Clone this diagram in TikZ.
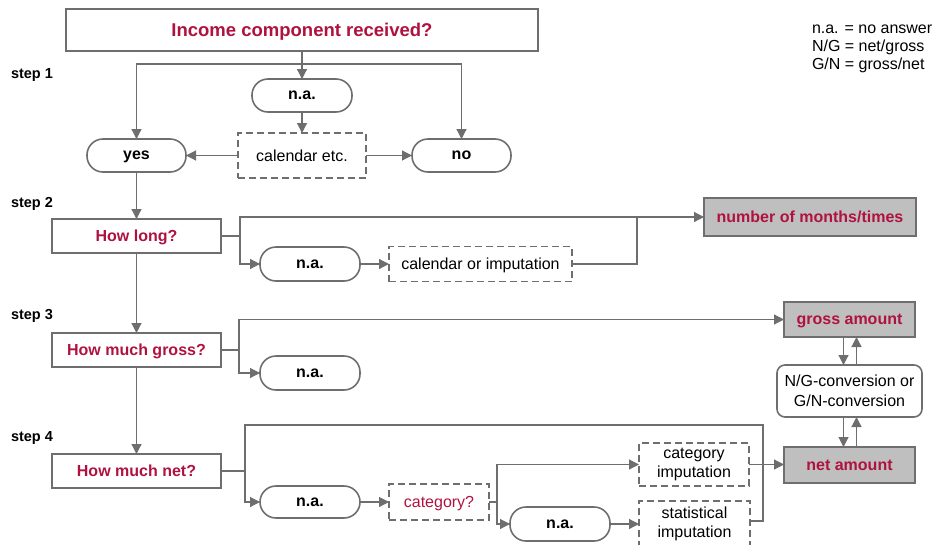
\documentclass[tikz,border=0pt]{standalone}
\usepackage{fontspec}
\setmainfont{Liberation Sans}
\usetikzlibrary{arrows.meta}
\definecolor{crim}{RGB}{176,18,64}
\definecolor{lg}{RGB}{110,110,110}
\definecolor{fillg}{RGB}{191,191,191}
\begin{document}
\begin{tikzpicture}[x=1pt,y=-1pt,
  every node/.style={inner sep=0pt, outer sep=0pt, font=\fontsize{16}{19.5}\selectfont},
  one/.style={text depth=0pt},
  qbox/.style={one, draw=lg, line width=1.6pt, text=crim, font=\fontsize{16}{19.5}\selectfont\bfseries, minimum width=169pt, minimum height=34pt},
  pill/.style={one, draw=lg, line width=1.6pt, rounded corners=16pt, font=\fontsize{16}{19.5}\selectfont\bfseries, minimum width=100pt, minimum height=33pt},
  dbox/.style={draw=lg, line width=1.6pt, dash pattern=on 7pt off 4pt, align=center},
  res/.style={one, draw=lg, line width=1.6pt, fill=fillg, text=crim, font=\fontsize{16}{19.5}\selectfont\bfseries},
  steplbl/.style={anchor=west, font=\fontsize{14.5}{17}\selectfont\bfseries},
  legend/.style={anchor=west, font=\fontsize{16}{19.5}\selectfont},
  conn/.style={draw=lg, line width=1.2pt},
  arr/.style={conn, -{Triangle[length=10pt,width=10pt]}}
]
\useasboundingbox (0,0) rectangle (932,544);

% legend
\node[legend] (lg1) at (812,29) {n.a. = no answer};
\node[legend] (lg2) at (812,47) {N/G = net/gross};
\node[legend] (lg3) at (812,65) {G/N = gross/net};

% step labels
\node[steplbl] (s1) at (11,75) {step 1};
\node[steplbl] (s2) at (11,204) {step 2};
\node[steplbl] (s3) at (11,316) {step 3};
\node[steplbl] (s4) at (11,438) {step 4};

% step 1
\node[one, draw=lg, line width=1.6pt, text=crim, font=\fontsize{18.5}{22}\selectfont\bfseries, minimum width=472pt, minimum height=42pt] (title) at (302,30) {Income component received?};
\node[pill] (na1) at (302,95.5) {n.a.};
\node[dbox, one, minimum width=128pt, minimum height=45pt] (cal1) at (302,155.5) {calendar etc.};
\node[pill, minimum width=99pt] (yes) at (136.5,155.5) {yes};
\node[pill, minimum width=99pt] (no) at (461.5,155.5) {no};
\coordinate (j1) at (302,64);
\draw[arr] (title.south) -- (na1.north);
\draw[arr] (j1) -| (yes.north);
\draw[arr] (j1) -| (no.north);
\draw[arr] (na1.south) -- (cal1.north);
\draw[arr] (cal1.west) -- (yes.east);
\draw[arr] (cal1.east) -- (no.west);

% step 2
\node[qbox] (howlong) at (136.5,236) {How long?};
\node[pill, minimum height=34pt] (na2) at (310,264) {n.a.};
\node[dbox, one, minimum width=183pt, minimum height=35pt] (cal2) at (480.5,264) {calendar or imputation};
\node[res, minimum width=212pt, minimum height=38pt] (months) at (810,217) {number of months/times};
\coordinate (j2) at (240,236);
\coordinate (j3) at (637,217);
\draw[arr] (yes.south) -- (howlong.north);
\draw[conn] (howlong.east) -- (j2);
\draw[arr] (j2) |- (months.west);
\draw[arr] (j2) |- (na2.west);
\draw[arr] (na2.east) -- (cal2.west);
\draw[conn] (cal2.east) -| (j3);

% step 3
\node[qbox] (howgross) at (136.5,350) {How much gross?};
\node[pill, minimum height=34pt] (na3) at (310,373) {n.a.};
\node[res, minimum width=131pt, minimum height=35pt] (gross) at (849.5,319.5) {gross amount};
\node[draw=lg, line width=1.6pt, rounded corners=8pt, align=center, minimum width=145pt, minimum height=52pt] (conv) at (849.5,391) {N/G-conversion or\\G/N-conversion};
\coordinate (j4) at (239,350);
\draw[arr] (howlong.south) -- (howgross.north);
\draw[conn] (howgross.east) -- (j4);
\draw[arr] (j4) |- (gross.west);
\draw[arr] (j4) |- (na3.west);

% step 4
\node[qbox] (hownet) at (136.5,471) {How much net?};
\node[pill, minimum height=32pt] (na4) at (310,502) {n.a.};
\node[dbox, one, minimum width=100pt, minimum height=36pt, text=crim] (catq) at (439,502) {category?};
\node[dbox, minimum width=110pt, minimum height=43pt] (catimp) at (694,464.5) {category\\imputation};
\node[res, minimum width=131pt, minimum height=36pt] (net) at (849.5,465) {net amount};
\node[pill, minimum height=34pt] (na5) at (560,524) {n.a.};
\node[dbox, minimum width=111pt, minimum height=46pt] (statimp) at (694.5,524) {statistical\\imputation};
\coordinate (j5) at (245,471);
\coordinate (j6) at (763,425);
\coordinate (j7) at (497,502);
\draw[arr] (howgross.south) -- (hownet.north);
\draw[conn] (hownet.east) -- (j5);
\draw[arr] (j5) |- (na4.west);
\draw[conn] (j5) |- (j6) |- ([yshift=3pt]statimp.east);
\draw[arr] (na4.east) -- (catq.west);
\draw[conn] (catq.east) -- (j7);
\draw[arr] (j7) |- (catimp.west);
\draw[arr] (j7) |- (na5.west);
\draw[arr] (catimp.east) -- (catimp.east -| net.west);
\draw[arr] (na5.east) -- (statimp.west);

% conversion arrows
\draw[arr] ([xshift=-6pt]gross.south) -- ([xshift=-6pt]gross.south |- conv.north);
\draw[arr] ([xshift=7pt]gross.south |- conv.north) -- ([xshift=7pt]gross.south);
\draw[arr] ([xshift=-6pt]conv.south) -- ([xshift=-6pt]conv.south |- net.north);
\draw[arr] ([xshift=7pt]conv.south |- net.north) -- ([xshift=7pt]conv.south);
\end{tikzpicture}
\end{document}
